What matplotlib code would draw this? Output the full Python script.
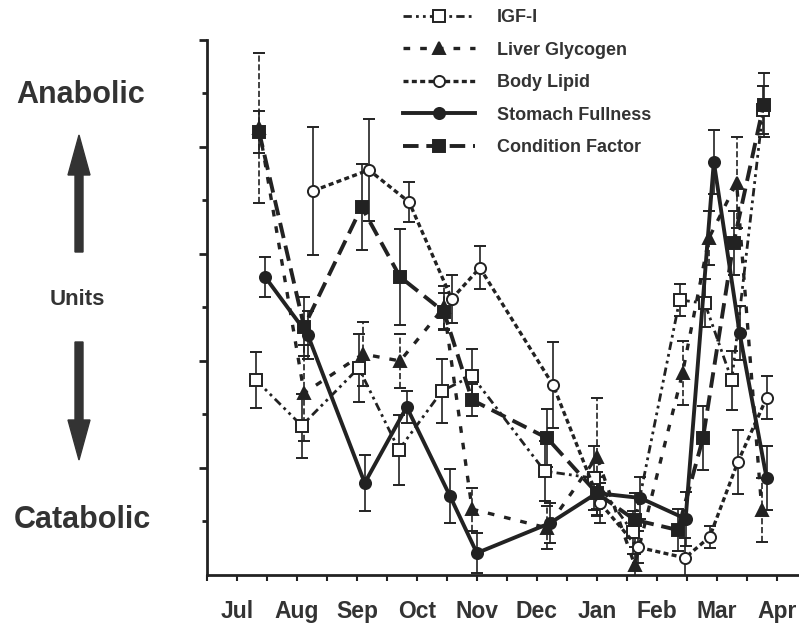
#!/usr/bin/env python3
"""Seasonal anabolic / catabolic indices (IGF-I, glycogen, lipid, stomach, condition)."""

import matplotlib
matplotlib.use('Agg')
import matplotlib.pyplot as plt
from matplotlib.lines import Line2D
from matplotlib.patches import FancyArrow

# month positions: Jul = 0 ... Apr = 9
months = ['Jul', 'Aug', 'Sep', 'Oct', 'Nov', 'Dec', 'Jan', 'Feb', 'Mar', 'Apr']

igf_x = [0.32, 1.08, 2.03, 2.70, 3.42, 3.92, 5.13, 5.95, 6.60, 7.38, 7.80, 8.25, 8.77]
igf_y = [3.64, 2.79, 3.87, 2.34, 3.44, 3.72, 1.94, 1.81, 0.80, 5.14, 5.08, 3.64, 8.69]
igf_err = [0.52, 0.60, 0.63, 0.65, 0.60, 0.50, 0.56, 0.60, 0.40, 0.30, 0.45, 0.55, 0.45]

glyc_x = [0.37, 1.12, 2.10, 2.72, 3.45, 3.92, 5.17, 6.00, 6.63, 7.43, 7.87, 8.33, 8.75]
glyc_y = [8.36, 3.40, 4.13, 4.00, 5.00, 1.23, 0.88, 2.21, 0.19, 3.78, 6.30, 7.33, 1.21]
glyc_err = [1.40, 0.90, 0.60, 0.50, 0.40, 0.40, 0.40, 1.10, 0.20, 0.60, 0.50, 0.85, 0.60]

lipid_x = [1.27, 2.20, 2.87, 3.58, 4.05, 5.27, 6.05, 6.68, 7.47, 7.88, 8.35, 8.83]
lipid_y = [7.18, 7.57, 6.97, 5.16, 5.74, 3.55, 1.35, 0.52, 0.32, 0.71, 2.11, 3.31]
lipid_err = [1.20, 0.95, 0.37, 0.45, 0.40, 0.80, 0.37, 0.30, 0.37, 0.20, 0.60, 0.40]

stomach_x = [0.47, 1.18, 2.13, 2.83, 3.55, 4.00, 5.22, 6.00, 6.72, 7.48, 7.95, 8.38, 8.83]
stomach_y = [5.57, 4.49, 1.72, 3.14, 1.48, 0.41, 0.97, 1.53, 1.44, 1.05, 7.72, 4.52, 1.81]
stomach_err = [0.37, 0.45, 0.52, 0.30, 0.50, 0.37, 0.37, 0.30, 0.40, 0.50, 0.60, 0.50, 0.60]

cond_x = [0.37, 1.12, 2.08, 2.72, 3.45, 3.92, 5.17, 6.00, 6.63, 7.35, 7.77, 8.28, 8.78]
cond_y = [8.28, 4.64, 6.88, 5.57, 4.92, 3.27, 2.56, 1.53, 1.03, 0.84, 2.56, 6.21, 8.79]
cond_err = [0.40, 0.55, 0.80, 0.90, 0.35, 0.30, 0.55, 0.40, 0.50, 0.40, 0.60, 0.60, 0.60]

INK = '#222222'
plt.rcParams['font.family'] = ['Liberation Sans', 'DejaVu Sans']

fig = plt.figure(figsize=(7.99, 6.29), dpi=100)
ax = fig.add_axes([0.259, 0.0859, 0.741, 0.8506])

series = [
    (igf_x, igf_y, igf_err, 'IGF-I', (0, (3, 1.5, 1, 1.5, 1, 1.5)), 2.0, 's', 'white', '-'),
    (glyc_x, glyc_y, glyc_err, 'Liver Glycogen', (0, (2, 3)), 2.4, '^', INK, '--'),
    (lipid_x, lipid_y, lipid_err, 'Body Lipid', (0, (1.5, 1)), 2.4, 'o', 'white', '-'),
    (stomach_x, stomach_y, stomach_err, 'Stomach Fullness', '-', 2.8, 'o', INK, '-'),
    (cond_x, cond_y, cond_err, 'Condition Factor', (0, (4, 2)), 2.8, 's', INK, '-'),
]

handles = []
for xs, ys, errs, label, ls, lw, mk, fc, els in series:
    style = dict(color=INK, linestyle=ls, linewidth=lw, marker=mk, markersize=8,
                 markerfacecolor=fc, markeredgecolor=INK, markeredgewidth=1.4)
    line, caps, bars = ax.errorbar(xs, ys, yerr=errs, elinewidth=1.2,
                                   capsize=4, capthick=1.2, **style)
    for b in bars:
        b.set_linestyle(els)
    handles.append(Line2D([], [], label=label, **style))

ax.set_xlim(-0.5, 9.37)
ax.set_ylim(0, 10)

for side in ('top', 'right'):
    ax.spines[side].set_visible(False)
for side in ('left', 'bottom'):
    ax.spines[side].set_linewidth(2)
    ax.spines[side].set_color(INK)

ax.set_yticks([2, 4, 6, 8, 10])
ax.set_yticks([1, 3, 5, 7, 9], minor=True)
ax.set_yticklabels([])
ax.tick_params(axis='y', which='major', direction='out', length=6, width=2, color=INK)
ax.tick_params(axis='y', which='minor', direction='out', length=3.5, width=2, color=INK)

ax.set_xticks(range(len(months)))
ax.set_xticklabels(months)
ax.set_xticks([i + 0.5 for i in range(-1, 9)], minor=True)
ax.tick_params(axis='x', which='both', direction='out', length=4, width=1.5,
               color=INK, pad=14, labelsize=16.5, labelcolor='#333333')
for t in ax.get_xticklabels():
    t.set_fontweight('bold')

# side annotations
H = 629.0
W = 799.0
fig.text(81 / W, (H - 103) / H, 'Anabolic', ha='center', va='baseline',
         fontsize=22, fontweight='bold', color='#333333')
fig.text(82 / W, (H - 528) / H, 'Catabolic', ha='center', va='baseline',
         fontsize=22, fontweight='bold', color='#333333')
fig.text(77 / W, (H - 305) / H, 'Units', ha='center', va='baseline',
         fontsize=16, fontweight='bold', color='#333333')

inch = fig.dpi_scale_trans
fig.add_artist(FancyArrow(0.79, (H - 252) / 100, 0, 1.17, width=0.08,
                          head_width=0.22, head_length=0.40,
                          length_includes_head=True, color='#333333', transform=inch))
fig.add_artist(FancyArrow(0.79, (H - 342) / 100, 0, -1.18, width=0.08,
                          head_width=0.22, head_length=0.40,
                          length_includes_head=True, color='#333333', transform=inch))

leg = fig.legend(handles=handles, loc='upper left',
                 bbox_to_anchor=(403 / W, (H - 9) / H),
                 frameon=False, handlelength=4.0, handletextpad=1.2,
                 labelspacing=0.86, borderpad=0, borderaxespad=0,
                 prop={'size': 13, 'weight': 'bold'})
for t in leg.get_texts():
    t.set_color('#333333')

fig.savefig('out.png', dpi=100)
